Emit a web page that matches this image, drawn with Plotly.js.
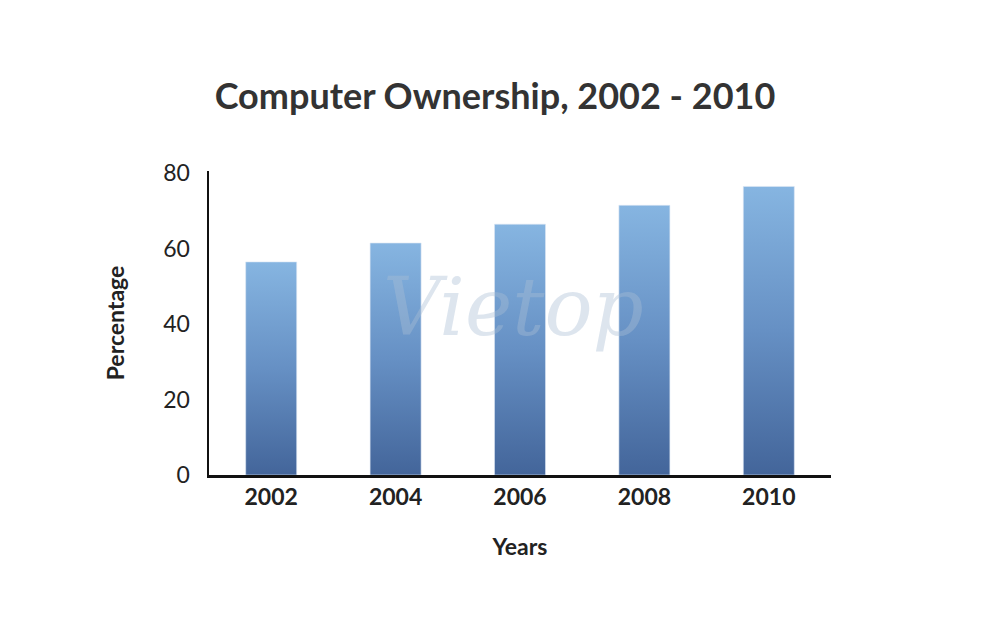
<!DOCTYPE html>
<html><head><meta charset="utf-8">
<script src="https://cdn.plot.ly/plotly-3.0.1.min.js"></script>
<style>html,body{margin:0;padding:0;background:#fff}#chart{width:1000px;height:622px}</style>
</head><body><div id="chart"></div>
<script>
const years = ['2002', '2004', '2006', '2008', '2010'];
const percentage = [56.5, 61.5, 66.5, 71.5, 76.5];
const yTicks = [0, 20, 40, 60, 80];

const trace = {
  type: 'bar', x: years, y: percentage, width: 0.41,
  marker: {color: '#6592c6', line: {color: '#dbe6f3', width: 0.6}},
  hoverinfo: 'x+y'
};
const layout = {
  width: 1000, height: 622, showlegend: false,
  paper_bgcolor: '#fff', plot_bgcolor: '#fff',
  margin: {l: 209, r: 169, t: 171, b: 147},
  font: {family: 'Lato, "Open Sans", sans-serif', color: '#222'},
  title: {text: '<b>Computer Ownership, 2002 - 2010</b>', x: 0.495, xanchor: 'center', y: 0.845, yanchor: 'middle',
          font: {size: 36, color: '#333', family: 'Lato, sans-serif'}},
  xaxis: {type: 'category', showline: true, linecolor: '#111', linewidth: 2.5, ticks: '', showgrid: false,
          tickfont: {size: 23, color: '#222'}, tickprefix: '<b>', ticksuffix: '</b>', ticklabelstandoff: 0,
          title: {text: '<b>Years</b>', font: {size: 23, color: '#222'}, standoff: 30}},
  yaxis: {range: [0, 80.6], showline: true, linecolor: '#111', linewidth: 2.5, ticks: '', showgrid: false, zeroline: false,
          tickvals: yTicks, tickfont: {size: 23, color: '#222'}, ticklabelstandoff: 12,
          title: {text: '<b>Percentage</b>', font: {size: 23, color: '#222'}, standoff: 32}},
  annotations: [{text: '<i>Vietop</i>', xref: 'paper', yref: 'paper', x: 0.49, y: 0.55, showarrow: false,
                 font: {size: 80, family: '"DejaVu Serif", serif', color: 'rgba(170,190,212,0.4)'}}]
};
Plotly.newPlot('chart', [trace], layout, {displayModeBar: false, staticPlot: true}).then(gd => {
  const svg = gd.querySelector('svg.main-svg');
  const ns = 'http://www.w3.org/2000/svg';
  let defs = svg.querySelector('defs');
  if (!defs) { defs = document.createElementNS(ns, 'defs'); svg.insertBefore(defs, svg.firstChild); }
  const g = document.createElementNS(ns, 'linearGradient');
  g.setAttribute('id', 'barGrad'); g.setAttribute('x1', '0'); g.setAttribute('y1', '0'); g.setAttribute('x2', '0'); g.setAttribute('y2', '1');
  [['0', '#86b5e1'], ['0.5', '#6690c4'], ['1', '#43659a']].forEach(([o, c]) => {
    const s = document.createElementNS(ns, 'stop'); s.setAttribute('offset', o); s.setAttribute('stop-color', c); g.appendChild(s);
  });
  defs.appendChild(g);
  gd.querySelectorAll('.bars .point path').forEach(p => { p.style.fill = 'url(#barGrad)'; p.style.fillOpacity = 1; });
});
</script></body></html>
